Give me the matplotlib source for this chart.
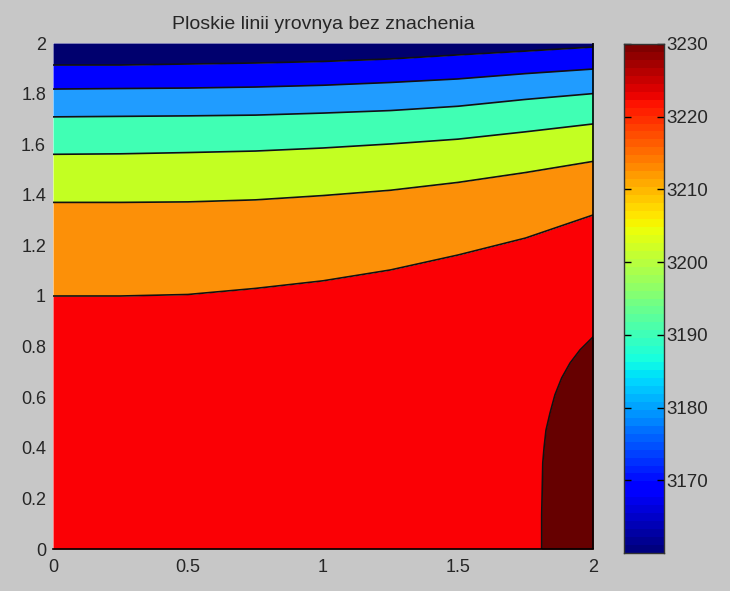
import matplotlib
matplotlib.use('Agg')
import matplotlib.pyplot as plt
import numpy as np

plt.rcParams['font.family'] = ['Liberation Sans', 'DejaVu Sans']

# level curves, y at each x
x_levels = [0, 0.25, 0.5, 0.75, 1, 1.25, 1.5, 1.75, 2]
level_3220 = [1.0, 1.0, 1.006, 1.03, 1.06, 1.103, 1.162, 1.229, 1.32]
level_3210 = [1.37, 1.37, 1.372, 1.38, 1.397, 1.418, 1.449, 1.488, 1.532]
level_3200 = [1.56, 1.562, 1.567, 1.573, 1.585, 1.601, 1.62, 1.649, 1.68]
level_3190 = [1.708, 1.71, 1.712, 1.715, 1.723, 1.733, 1.75, 1.777, 1.80]
level_3180 = [1.818, 1.82, 1.822, 1.826, 1.833, 1.844, 1.858, 1.879, 1.897]
level_3170 = [1.913, 1.913, 1.917, 1.921, 1.927, 1.937, 1.953, 1.968, 1.984]

# the dark patch in the lower right corner
corner_x = [1.81, 1.81, 1.814, 1.819, 1.826, 1.841, 1.859, 1.884, 1.915, 1.952, 2.0]
corner_y = [0, 0.134, 0.34, 0.403, 0.47, 0.538, 0.609, 0.676, 0.735, 0.787, 0.838]

band_colors = ['#fb0005', '#fc9008', '#c3ff22', '#40ffb4', '#209cff', '#0000ff', '#00006e']
corner_color = '#660000'

x_ticks = [0, 0.5, 1, 1.5, 2]
y_ticks = [0, 0.2, 0.4, 0.6, 0.8, 1, 1.2, 1.4, 1.6, 1.8, 2]
cbar_ticks = [3170, 3180, 3190, 3200, 3210, 3220, 3230]

bg = '#c7c7c7'
text_color = '#262626'
W, H = 730, 591

fig = plt.figure(figsize=(7.3, 5.91), dpi=100, facecolor=bg)
ax = fig.add_axes([53 / W, 1 - 549 / H, 540 / W, 506 / H])

curves = [level_3220, level_3210, level_3200, level_3190, level_3180, level_3170]
lower = [0] * len(x_levels)
for curve, color in zip(curves + [[2] * len(x_levels)], band_colors):
    ax.fill_between(x_levels, lower, curve, color=color, lw=0)
    lower = curve
for curve in curves:
    ax.plot(x_levels, curve, color='#111111', lw=1.2)

ax.fill_betweenx(corner_y, corner_x, 2, color=corner_color, lw=0)
ax.plot(corner_x, corner_y, color='#111111', lw=1.2)

ax.set_xlim(0, 2)
ax.set_ylim(0, 2)
ax.set_xticks(x_ticks)
ax.set_xticklabels(['0', '0.5', '1', '1.5', '2'])
ax.set_yticks(y_ticks)
ax.set_yticklabels(['0', '0.2', '0.4', '0.6', '0.8', '1', '1.2', '1.4', '1.6', '1.8', '2'])
# the ticks sit under the filled bands in the original
ax.tick_params(length=0, labelsize=13, labelcolor=text_color)
ax.tick_params(axis='x', pad=7)
ax.tick_params(axis='y', pad=5)
ax.set_title('Ploskie linii yrovnya bez znachenia', fontsize=14, pad=10, color=text_color)
ax.spines['top'].set_visible(False)
ax.spines['left'].set_visible(False)
ax.spines['bottom'].set_linewidth(1.2)
ax.spines['right'].set_linewidth(1.2)
ax.spines['right'].set_capstyle('butt')

# colorbar on the right
cax = fig.add_axes([624 / W, 1 - 553 / H, 40 / W, 509 / H])
cax.imshow(np.arange(64).reshape(-1, 1), cmap='jet', origin='lower', aspect='auto',
           extent=[0, 1, 3160, 3230])
cax.set_xticks([])
cax.set_yticks(cbar_ticks)
cax.yaxis.tick_right()
cax.tick_params(direction='in', length=5, width=1, labelsize=13.5, left=True, right=True,
                pad=1.5, labelcolor=text_color)
for s in cax.spines.values():
    s.set_linewidth(1)
    s.set_color('#333333')

fig.savefig('out.png', dpi=100, facecolor=bg)
